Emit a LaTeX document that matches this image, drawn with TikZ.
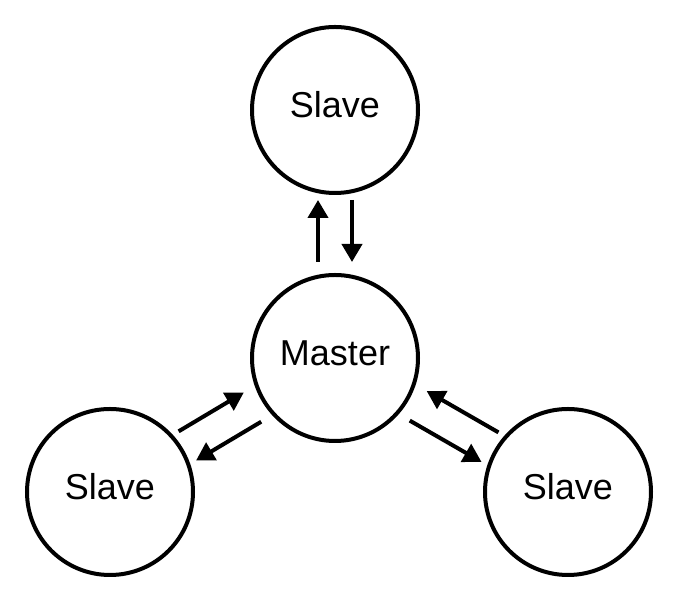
\documentclass[tikz,border=0pt]{standalone}
\usepackage{fontspec}
\setmainfont{Liberation Sans}
\usetikzlibrary{arrows.meta,calc}
\tikzset{
  unitc/.style={circle,draw,line width=4pt,minimum size=166pt,inner sep=0pt,outer sep=0pt,
    font=\fontsize{36}{40}\selectfont,text height=26pt,text depth=10pt},
  outArrow/.style={-{Triangle[length=18pt,width=20pt]},line width=4pt,shorten <=96pt,shorten >=90pt},
  backArrow/.style={-{Triangle[length=18pt,width=20pt]},line width=4pt,shorten <=90pt,shorten >=96pt}
}
\begin{document}
\begin{tikzpicture}[x=1pt,y=1pt]
  \useasboundingbox (0,0) rectangle (678,601);
  \node[unitc] (m) at (335,243) {Master};
  \node[unitc] (st) at (335,491) {Slave};
  \node[unitc] (sl) at (110,109) {Slave};
  \node[unitc] (sr) at (568,109) {Slave};
  % master <-> top
  \draw[outArrow] ($(m)!17pt!90:(st)$) -- ($(st)!17pt!-90:(m)$);
  \draw[backArrow] ($(st)!17pt!90:(m)$) -- ($(m)!17pt!-90:(st)$);
  % master <-> left
  \draw[outArrow] ($(m)!17pt!90:(sl)$) -- ($(sl)!17pt!-90:(m)$);
  \draw[backArrow] ($(sl)!17pt!90:(m)$) -- ($(m)!17pt!-90:(sl)$);
  % master <-> right
  \draw[outArrow] ($(m)!17pt!-90:(sr)$) -- ($(sr)!17pt!90:(m)$);
  \draw[backArrow] ($(sr)!17pt!-90:(m)$) -- ($(m)!17pt!90:(sr)$);
\end{tikzpicture}
\end{document}
